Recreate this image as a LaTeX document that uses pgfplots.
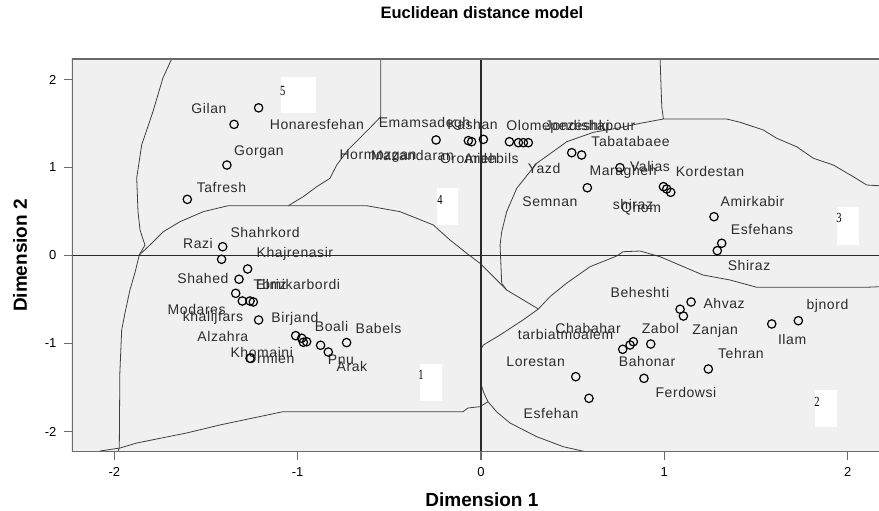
\documentclass[border=0pt]{standalone}
\usepackage{fontspec}
\setmainfont{Liberation Sans}
\newfontfamily\lblfont[LetterSpace=4]{Liberation Sans}
\newfontfamily\digfont{Liberation Serif}
\usepackage{pgfplots}
\pgfplotsset{compat=1.18}
\definecolor{lblc}{HTML}{2C2C2C}
\definecolor{regc}{HTML}{404040}
\definecolor{boxc}{HTML}{6A6A6A}
\definecolor{zeroc}{HTML}{2A2A2A}
\tikzset{
 lbl/.style={font=\lblfont\fontsize{14}{16}\selectfont, text=lblc, inner sep=0pt, anchor=center},
 dig/.style={font=\digfont\fontsize{14}{15}\selectfont, text=black, inner sep=0pt, anchor=center, xscale=0.75},
}
\begin{document}
\begin{tikzpicture}
\useasboundingbox (-72pt,-59pt) rectangle (807pt,452pt);
\begin{axis}[
 at={(0,0)}, anchor=south west,
 scale only axis, width=807pt, height=393pt,
 xmin=-2.231, xmax=2.171, ymin=-2.233, ymax=2.233,
 axis background/.style={fill=gray!12},
 axis line style={draw=none},
 xtick={-2,-1,0,1,2}, ytick={-2,-1,0,1,2},
 xtick pos=bottom, ytick pos=left, tick align=outside,
 major tick length=8pt,
 tick style={boxc, line width=1.1pt},
 ticklabel style={font=\fontsize{13}{15}\selectfont, text=black},
 xticklabel style={yshift=-4pt},
 yticklabel style={xshift=-4pt},
 /pgf/number format/assume math mode=true,
 title={Euclidean distance model},
 title style={font=\fontsize{16.5}{19}\selectfont\bfseries, at={(0.508,1.104)}, anchor=center},
 xlabel={Dimension 1}, ylabel={Dimension 2},
 xlabel style={font=\fontsize{19}{22}\selectfont\bfseries, at={(axis description cs:0.508,-0.122)}, anchor=center},
 ylabel style={font=\fontsize{19}{22}\selectfont\bfseries, at={(axis description cs:-0.0644,0.5)}, anchor=center},
]
% region boundaries
\addplot[regc, line width=0.8pt] coordinates {(-1.6875,2.233)(-1.735,2.017)(-1.790,1.631)(-1.851,1.256)(-1.878,0.881)(-1.871,0.498)(-1.860,0.290)(-1.833,0.119)(-1.864,0.006)};
\addplot[regc, line width=0.8pt] coordinates {(-1.864,0.006)(-1.888,-0.199)(-1.915,-0.392)(-1.942,-0.653)(-1.960,-0.847)(-1.970,-1.335)(-1.973,-2.188)(-1.981,-2.233)};
\addplot[regc, line width=0.8pt] coordinates {(-2.079,-2.222)(-1.970,-2.188)(-1.878,-2.131)(-1.606,-2.017)(-1.424,-1.926)(-1.244,-1.847)(-1.080,-1.775)(-0.098,-1.775)(-0.071,-1.733)(-0.005,-1.718)(0.038,-1.661)};
\addplot[regc, line width=0.8pt] coordinates {(-1.864,0.006)(-1.806,0.119)(-1.733,0.270)(-1.642,0.384)(-1.515,0.498)(-1.379,0.566)(-1.051,0.566)(-0.624,0.566)(-0.442,0.498)(-0.260,0.347)(-0.169,0.176)(-0.078,0.025)(-0.005,-0.089)(0.140,-0.392)(0.231,-0.506)(0.313,-0.608)};
\addplot[regc, line width=0.8pt] coordinates {(-0.547,2.233)(-0.547,1.577)(-0.606,1.449)(-0.726,1.199)(-0.787,1.028)(-0.824,0.877)(-0.896,0.782)(-0.970,0.668)(-1.051,0.566)};
\addplot[regc, line width=0.8pt] coordinates {(0.977,2.233)(0.986,1.691)(0.995,1.551)};
\addplot[regc, line width=0.8pt] coordinates {(0.995,1.551)(0.868,1.502)(0.758,1.452)(0.613,1.400)(0.468,1.293)(0.304,1.048)(0.195,0.764)(0.140,0.498)(0.113,0.270)(0.104,0.119)(0.113,-0.316)(0.140,-0.392)};
\addplot[regc, line width=0.8pt] coordinates {(0.995,1.551)(1.340,1.551)(1.413,1.514)(1.540,1.426)(1.613,1.332)(1.722,1.236)(1.813,1.105)(1.922,1.028)(2.031,0.895)(2.104,0.801)(2.171,0.793)};
\addplot[regc, line width=0.8pt] coordinates {(0.013,-1.017)(0.104,-0.903)(0.229,-0.733)(0.313,-0.608)(0.376,-0.468)(0.468,-0.313)(0.595,-0.127)(0.740,-0.006)(0.775,0.043)(0.868,0.051)(0.977,-0.014)(1.211,-0.222)(1.358,-0.278)(1.504,-0.361)(2.104,-0.361)(2.171,-0.355)};
\addplot[regc, line width=0.8pt] coordinates {(0.013,-1.017)(-0.003,-1.074)(-0.003,-1.449)(0.016,-1.563)(0.038,-1.661)(0.086,-1.778)(0.158,-1.903)(0.304,-2.059)(0.449,-2.173)(0.577,-2.233)};
% zero reference lines
\addplot[zeroc, line width=1.2pt] coordinates {(-2.3,0)(2.3,0)};
\addplot[zeroc, line width=1.2pt] coordinates {(0,-2.3)(0,2.3)};
% frame (left, top, bottom)
\draw[boxc, line width=1.2pt] (rel axis cs:1,1) -- (rel axis cs:0,1) -- (rel axis cs:0,0) -- (rel axis cs:1,0);
% region number boxes
\fill[white] (axis cs:-1.093,1.616) rectangle (axis cs:-0.900,2.032);
\fill[white] (axis cs:-0.242,0.347) rectangle (axis cs:-0.124,0.764);
\fill[white] (axis cs:1.944,0.119) rectangle (axis cs:2.064,0.548);
\fill[white] (axis cs:1.822,-1.945) rectangle (axis cs:1.941,-1.528);
\fill[white] (axis cs:-0.333,-1.653) rectangle (axis cs:-0.214,-1.236);
\node[dig] at (axis cs:-1.081,1.873) {5};
\node[dig] at (axis cs:-0.224,0.631) {4};
\node[dig] at (axis cs:1.953,0.430) {3};
\node[dig] at (axis cs:1.833,-1.660) {2};
\node[dig] at (axis cs:-0.327,-1.358) {1};
% stimulus points
\addplot[only marks, mark=o, mark size=4.2pt, mark options={line width=1.2pt, draw=black}] coordinates {
(-1.213,1.678)(-1.347,1.49)(-1.386,1.028)(-1.602,0.638)(-1.409,0.1)(-1.415,-0.043)
(-1.273,-0.153)(-1.32,-0.27)(-1.338,-0.43)(-1.302,-0.517)(-1.26,-0.517)(-1.242,-0.528)
(-1.213,-0.733)(-1.011,-0.911)(-0.978,-0.94)(-0.969,-0.986)(-0.951,-0.98)(-0.875,-1.02)
(-0.833,-1.097)(-0.733,-0.99)(-1.26,-1.168)(-0.245,1.313)(-0.069,1.305)(-0.051,1.293)
(0.013,1.32)(0.155,1.293)(0.204,1.282)(0.231,1.282)(0.258,1.282)(0.495,1.168)
(0.549,1.142)(0.58,0.77)(0.758,0.998)(0.995,0.782)(1.013,0.756)(1.035,0.718)
(1.271,0.441)(1.313,0.139)(1.289,0.055)(1.146,-0.528)(1.086,-0.611)(1.104,-0.688)
(1.731,-0.741)(1.586,-0.778)(0.773,-1.066)(0.813,-1.017)(0.831,-0.98)(0.926,-1.006)
(1.24,-1.29)(0.889,-1.396)(0.517,-1.377)(0.589,-1.623)};
% point labels
\node[lbl] at (axis cs:-1.484,1.676) {Gilan};
\node[lbl] at (axis cs:-0.895,1.494) {Honaresfehan};
\node[lbl] at (axis cs:-1.211,1.176) {Gorgan};
\node[lbl] at (axis cs:-1.416,0.778) {Tafresh};
\node[lbl] at (axis cs:-1.178,0.256) {Shahrkord};
\node[lbl] at (axis cs:-1.544,0.131) {Razi};
\node[lbl] at (axis cs:-1.015,0.017) {Khajrenasir};
\node[lbl] at (axis cs:-1.517,-0.267) {Shahed};
\node[lbl] at (axis cs:-1.151,-0.335) {Tbriz};
\node[lbl] at (axis cs:-0.998,-0.335) {Elmikarbordi};
\node[lbl] at (axis cs:-1.551,-0.619) {Modares};
\node[lbl] at (axis cs:-1.462,-0.710) {khalijfars};
\node[lbl] at (axis cs:-1.015,-0.722) {Birjand};
\node[lbl] at (axis cs:-1.408,-0.926) {Alzahra};
\node[lbl] at (axis cs:-0.815,-0.8125) {Boali};
\node[lbl] at (axis cs:-0.559,-0.824) {Babels};
\node[lbl] at (axis cs:-1.196,-1.097) {Khomaini};
\node[lbl] at (axis cs:-1.151,-1.165) {Ormien};
\node[lbl] at (axis cs:-0.764,-1.188) {Pnu};
\node[lbl] at (axis cs:-0.704,-1.267) {Arak};
\node[lbl] at (axis cs:0.298,-1.210) {Lorestan};
\node[lbl] at (axis cs:0.382,-1.801) {Esfehan};
\node[lbl] at (axis cs:0.461,-0.903) {tarbiatmoalem};
\node[lbl] at (axis cs:0.584,-0.835) {Chabahar};
\node[lbl] at (axis cs:0.867,-0.426) {Beheshti};
\node[lbl] at (axis cs:1.462,-0.108) {Shiraz};
\node[lbl] at (axis cs:1.326,-0.540) {Ahvaz};
\node[lbl] at (axis cs:0.979,-0.824) {Zabol};
\node[lbl] at (axis cs:1.277,-0.858) {Zanjan};
\node[lbl] at (axis cs:1.890,-0.574) {bjnord};
\node[lbl] at (axis cs:1.697,-0.949) {Ilam};
\node[lbl] at (axis cs:0.906,-1.199) {Bahonar};
\node[lbl] at (axis cs:1.418,-1.119) {Tehran};
\node[lbl] at (axis cs:1.118,-1.5625) {Ferdowsi};
\node[lbl] at (axis cs:0.816,1.301) {Tabatabaee};
\node[lbl] at (axis cs:0.922,1.006) {Valias};
\node[lbl] at (axis cs:1.249,0.949) {Kordestan};
\node[lbl] at (axis cs:0.775,0.949) {Maragheh};
\node[lbl] at (axis cs:1.481,0.608) {Amirkabir};
\node[lbl] at (axis cs:1.533,0.290) {Esfehans};
\node[lbl] at (axis cs:0.829,0.585) {shiraz};
\node[lbl] at (axis cs:0.873,0.528) {Qhom};
\node[lbl] at (axis cs:-0.308,1.494) {Emamsadegh};
\node[lbl] at (axis cs:-0.046,1.494) {Kashan};
\node[lbl] at (axis cs:-0.562,1.131) {Hormozgan};
\node[lbl] at (axis cs:-0.374,1.131) {Mazandaran};
\node[lbl] at (axis cs:-0.068,1.097) {Oromieh};
\node[lbl] at (axis cs:0.057,1.097) {Ardebils};
\node[lbl] at (axis cs:0.420,1.460) {Olomepezeshki};
\node[lbl] at (axis cs:0.595,1.460) {Jondishapour};
\node[lbl] at (axis cs:0.344,0.983) {Yazd};
\node[lbl] at (axis cs:0.376,0.608) {Semnan};
\end{axis}
\end{tikzpicture}
\end{document}
